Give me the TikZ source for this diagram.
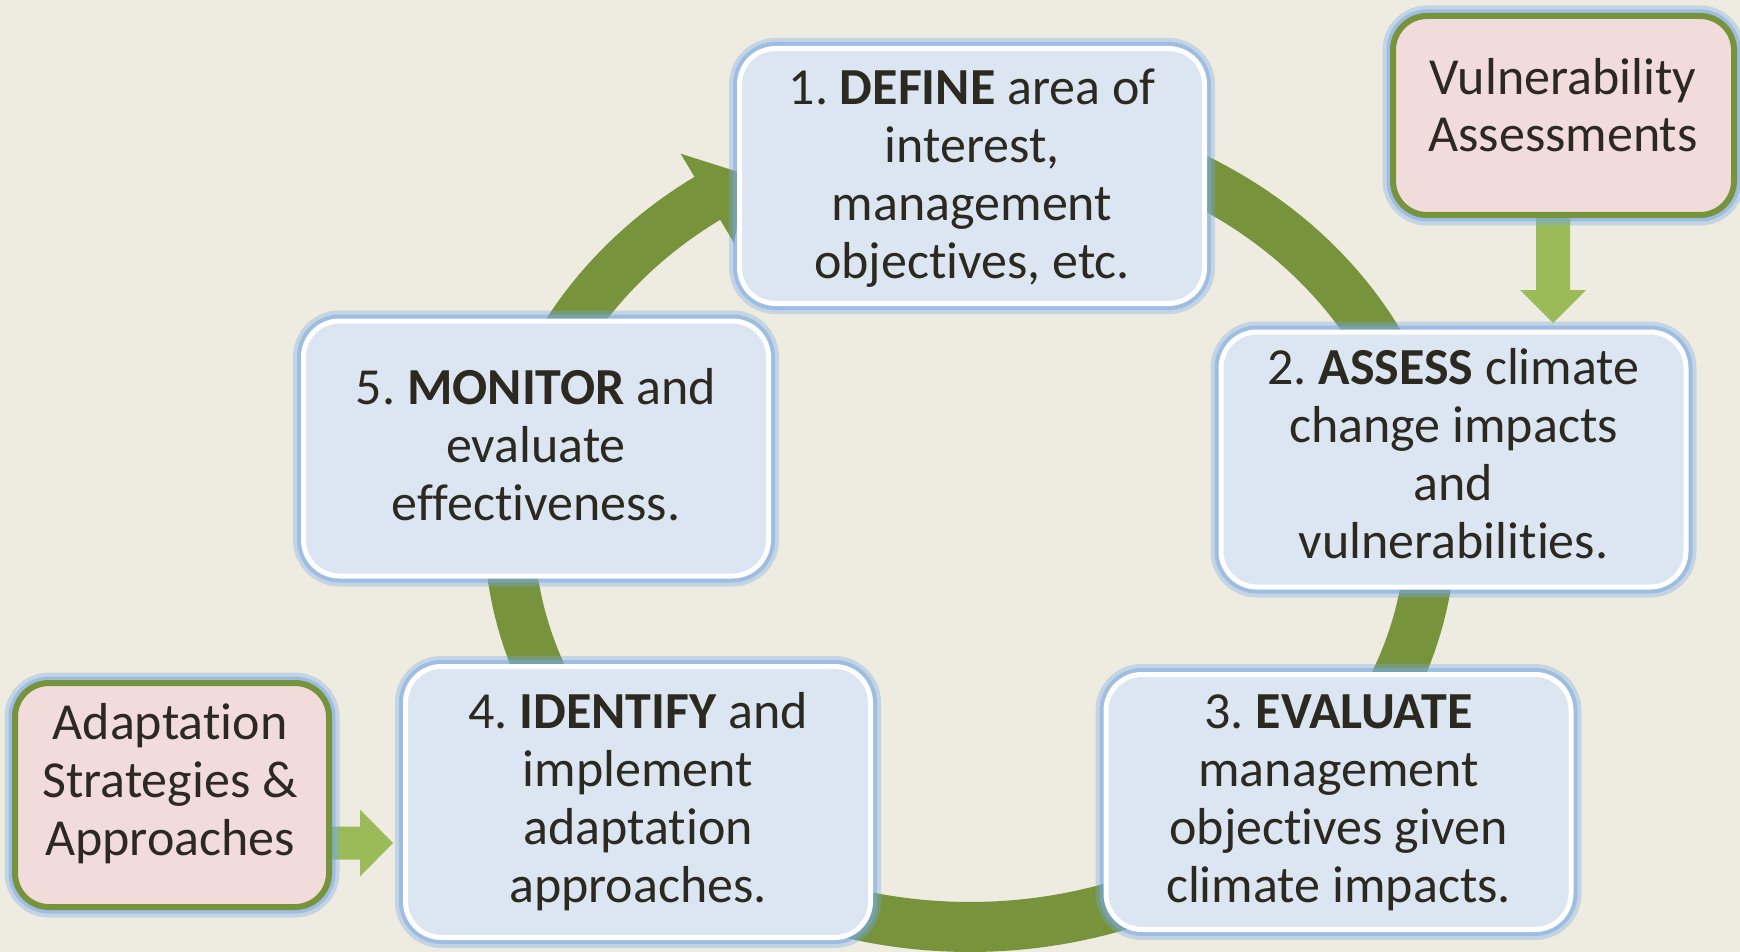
\documentclass[tikz,border=0pt]{standalone}
\usepackage{fontspec}
\setmainfont{Carlito}[Ligatures=NoCommon]
\usetikzlibrary{calc}
\definecolor{bgc}{RGB}{238,236,225}
\definecolor{boxblue}{RGB}{220,230,242}
\definecolor{glowc}{RGB}{120,168,228}
\definecolor{ringg}{RGB}{119,147,60}
\definecolor{lightg}{RGB}{155,187,89}
\definecolor{pinkc}{RGB}{242,220,219}
\definecolor{txtc}{RGB}{44,41,32}
\pgfdeclarelayer{bg}
\pgfsetlayers{bg,main}
\frenchspacing
\begin{document}
\begin{tikzpicture}[x=1pt,y=-1pt,
  haloglow/.style={preaction={draw=glowc,line width=21pt,draw opacity=0.35},
                   preaction={draw=glowc,line width=13pt,draw opacity=0.5}},
  stepbox/.style={haloglow,rectangle,rounded corners=36pt,fill=boxblue,draw=white,
                  line width=5pt,minimum width=465pt,minimum height=255pt,inner sep=0pt},
  inbox/.style={haloglow,rectangle,rounded corners=34pt,fill=pinkc,draw=ringg,
                line width=6pt,inner sep=0pt},
  txt/.style={align=center,text=txtc,font=\fontsize{52}{57.7}\selectfont,inner sep=0pt,anchor=base}
]
\useasboundingbox (0,0) rectangle (1740,952);

% boxes
\node[stepbox] (b1) at (972,176) {};
\node[stepbox] (b2) at (1453.5,459.5) {};
\node[stepbox] (b3) at (1338.5,802) {};
\node[stepbox,minimum height=271pt] (b4) at (638,802) {};
\node[stepbox] (b5) at (536,448.5) {};
\node[inbox,minimum width=341pt,minimum height=199pt] (va) at (1563.5,115.5) {};
\node[inbox,minimum width=314pt,minimum height=224pt] (aa) at (172,795) {};

% texts (anchored on the baseline of their last line)
\node[txt] (t1) at (972,278) {1. \textbf{DEFINE} area of\\interest,\\management\\objectives, etc.};
\node[txt] (t2) at (1453.5,558) {2. \textbf{ASSESS} climate\\change impacts\\and\\vulnerabilities.};
\node[txt] (t3) at (1338.5,902) {3. \textbf{EVALUATE}\\management\\objectives given\\climate impacts.};
\node[txt] (t4) at (638,902) {4. \textbf{IDENTIFY} and\\implement\\adaptation\\approaches.};
\node[txt] (t5) at (536,520) {5. \textbf{MONITOR} and\\evaluate\\effectiveness.};
\node[txt] (tv) at (1563,152) {Vulnerability\\Assessments};
\node[txt] (ta) at (170,855) {Adaptation\\Strategies \&\\Approaches};

\begin{pgfonlayer}{bg}
\fill[bgc] (0,0) rectangle (1740,952);
% cycle ring
\draw[ringg,line width=50pt] plot[domain=265:595.6,samples=240,variable=\t]
  ({970+461*cos(\t)},{527+400*sin(\t)});
\fill[ringg] (680.6,153.7) -- (746.8,174.7) -- (734.0,242.9) -- cycle;
% input arrows
\coordinate (vt) at (1553,323);
\coordinate (vs) at ($(va.south -| vt)+(0,-6)$);
\fill[lightg] ($(vs)+(-17,0)$) -- ($(vt)+(-17,-33)$) -- ($(vt)+(-33,-33)$) -- (vt)
  -- ($(vt)+(33,-33)$) -- ($(vt)+(17,-33)$) -- ($(vs)+(17,0)$) -- cycle;
\coordinate (at) at (393,843);
\coordinate (as) at ($(aa.east |- at)+(-6,0)$);
\fill[lightg] ($(as)+(0,-16.5)$) -- ($(at)+(-33,-16.5)$) -- ($(at)+(-33,-33.5)$) -- (at)
  -- ($(at)+(-33,33.5)$) -- ($(at)+(-33,16.5)$) -- ($(as)+(0,16.5)$) -- cycle;
\end{pgfonlayer}
\end{tikzpicture}
\end{document}
